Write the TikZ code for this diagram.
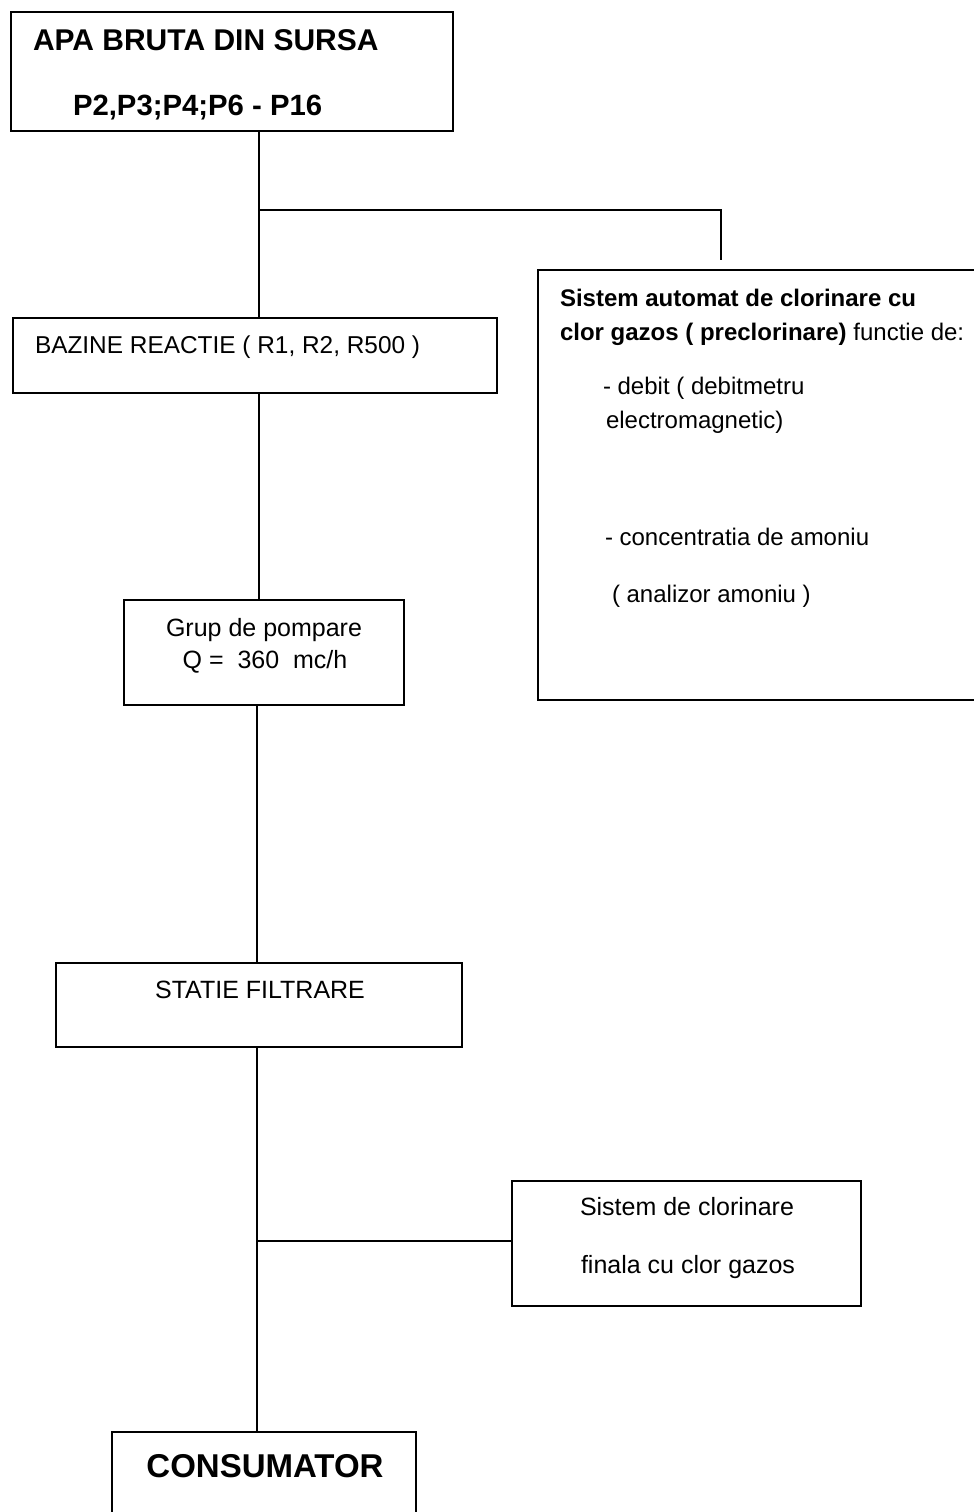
\documentclass[tikz,border=0pt]{standalone}
\usepackage{fontspec}
\setmainfont{Liberation Sans}
\begin{document}
\begin{tikzpicture}[x=1pt,y=-1pt,
  box/.style={draw=black,line width=1.6pt,inner sep=0pt,outer sep=0pt,anchor=north west,fill=none},
  wire/.style={draw=black,line width=1.6pt},
  txt/.style={inner sep=0pt,outer sep=0pt,text=black},
  fbody/.style={font=\fontsize{24}{28}\selectfont},
  fmid/.style={font=\fontsize{25}{29}\selectfont},
  fbold/.style={font=\fontsize{24}{28}\selectfont\bfseries}]
\useasboundingbox (0,0) rectangle (974,1512);
\fill[white] (0,0) rectangle (974,1512);
% boxes
\node[box,minimum width=442pt,minimum height=119pt] (b1) at (11,12) {};
\node[box,minimum width=484pt,minimum height=75pt] (b2) at (13,318) {};
\node[box,minimum width=280pt,minimum height=105pt] (b3) at (124,600) {};
\node[box,minimum width=406pt,minimum height=84pt] (b4) at (56,963) {};
\node[box,minimum width=349pt,minimum height=125pt] (b5) at (512,1181) {};
\node[box,minimum width=460pt,minimum height=430pt] (b7) at (538,270) {};
\node[box,minimum width=304pt,minimum height=110pt] (b6) at (112,1432) {};
% texts
\node[txt,anchor=base west,font=\fontsize{30}{34}\selectfont\bfseries] (t1a) at (33,51) {APA BRUTA DIN SURSA};
\node[txt,anchor=base west,font=\fontsize{29.3}{34}\selectfont\bfseries] (t1b) at (73,115) {P2,P3;P4;P6 - P16};
\node[txt,anchor=base west,font=\fontsize{24.4}{28}\selectfont] (t2) at (35,353) {BAZINE REACTIE ( R1, R2, R500 )};
\node[txt,anchor=base,fmid] (t3a) at (264,636) {Grup de pompare};
\node[txt,anchor=base,fmid] (t3b) at (265,668) {Q =\ \ 360\ \ mc/h};
\node[txt,anchor=base,fmid] (t4) at (260,998) {STATIE FILTRARE};
\node[txt,anchor=base,fmid] (t5a) at (687,1215) {Sistem de clorinare};
\node[txt,anchor=base,fmid] (t5b) at (688,1273) {finala cu clor gazos};
\node[txt,anchor=base,font=\fontsize{33}{38}\selectfont\bfseries] (t6) at (265,1477) {CONSUMATOR};
\node[txt,anchor=base west,fbold] (t7a) at (560,306) {Sistem automat de clorinare cu};
\node[txt,anchor=base west,fbody] (t7b) at (560,340) {\textbf{clor gazos ( preclorinare)} functie de:};
\node[txt,anchor=base west,fbody] (t7c) at (603,394) {- debit ( debitmetru};
\node[txt,anchor=base west,fbody] (t7d) at (606,428) {electromagnetic)};
\node[txt,anchor=base west,fbody] (t7e) at (605,545) {- concentratia de amoniu};
\node[txt,anchor=base west,fbody] (t7f) at (612,602) {( analizor amoniu )};
% connectors
\coordinate (j1) at (259,210);
\coordinate (j1e) at (721,260);
\coordinate (j2) at (257,1241);
\draw[wire] (b1.south -| j1) -- (b2.north -| j1);
\draw[wire] (j1) -| (j1e);
\draw[wire] (b2.south -| j1) -- (b3.north -| j1);
\draw[wire] (b3.south -| j2) -- (b4.north -| j2);
\draw[wire] (b4.south -| j2) -- (b6.north -| j2);
\draw[wire] (j2) -- (b5.west |- j2);
\end{tikzpicture}
\end{document}
